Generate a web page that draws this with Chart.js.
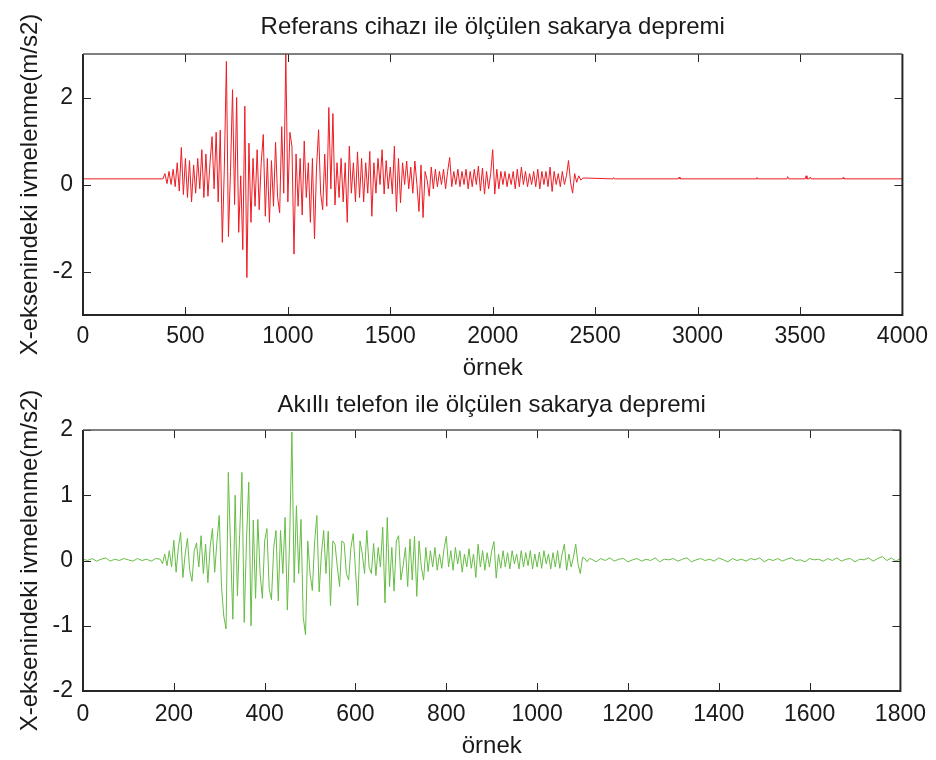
<!DOCTYPE html>
<html>
<head>
<meta charset="utf-8">
<script src="https://cdn.jsdelivr.net/npm/chart.js@4.4.1/dist/chart.umd.min.js"></script>
<style>
  body { margin: 0; background: #fff; }
  #wrap { position: relative; width: 936px; height: 760px; overflow: hidden; }
  canvas { position: absolute; left: 0; }
  #refChart { top: 0; }
  #phoneChart { top: 380px; }
</style>
</head>
<body>
<div id="wrap">
  <canvas id="refChart" width="936" height="390"></canvas>
  <canvas id="phoneChart" width="936" height="380"></canvas>
</div>
<script>
// --- reference device record (samples 0..4000) ---
const refStart = 390;
const refStep = 10;
const refBaseline = 0.13;
const refWave = [
  0.13, 0.25, 0.02, 0.3, 0.0, 0.35, -0.05, 0.5, -0.15, 0.85,
  -0.23, 0.6, -0.3, 0.55, -0.4, 0.45, -0.2, 0.6, -0.1, 0.8,
  -0.3, 0.7, -0.27, 0.5, 1.1, -0.1, 1.2, -0.4, 1.25, -1.33,
  0.4, 2.83, -1.2, 0.3, 2.18, -0.46, 2.0, -1.1, 0.2, -1.5,
  1.8, -2.14, 0.95, -0.87, 0.6, -0.5, 0.8, -0.58, 0.5, 1.15,
  -0.73, 0.6, -0.87, 0.55, -0.5, 0.97, -0.3, -0.65, 1.33, -0.2,
  3.0, -0.4, 1.2, 0.88, -1.6, 0.7, -0.5, 0.6, -0.7, 1.0,
  -0.3, 0.5, -0.87, 0.6, -1.25, 0.4, 1.26, -0.2, -0.58, 0.7,
  -0.5, 1.77, -0.1, 1.63, -0.47, 0.5, -0.3, 0.6, -0.4, 0.5,
  -0.87, 0.88, -0.2, 0.5, -0.4, 0.75, -0.3, 0.6, -0.4, 0.5,
  -0.2, 0.76, -0.73, 0.5, -0.2, 0.6, 0.0, 0.8, -0.22, 0.55,
  -0.1, 0.4, -0.22, 0.88, -0.62, 0.6, -0.42, 0.5, 0.0, 0.54,
  -0.1, 0.4, -0.2, 0.54, 0.0, -0.62, 0.45, -0.76, 0.3, 0.1,
  -0.27, 0.4, -0.1, 0.35, -0.05, 0.3, 0.0, 0.35, -0.1, 0.3,
  0.62, -0.05, 0.3, 0.0, 0.35, -0.05, 0.3, 0.0, 0.35, -0.1,
  0.3, -0.05, 0.35, 0.0, 0.42, -0.15, 0.38, -0.22, 0.3, -0.1,
  0.25, 0.8, -0.22, 0.35, -0.1, 0.3, 0.0, 0.3, -0.05, 0.25,
  0.0, 0.3, -0.1, 0.35, -0.05, 0.4, 0.0, 0.3, -0.05, 0.25,
  0.0, 0.3, -0.05, 0.35, -0.1, 0.3, 0.0, 0.3, -0.05, 0.4,
  -0.16, 0.3, 0.0, 0.25, -0.05, 0.3, 0.0, 0.2, 0.55, 0.05,
  -0.2, 0.25, 0.05, 0.2, 0.1, 0.15
];
const refBlipSamples = [2590, 2910, 3290, 3440, 3530, 3550, 3710];
const refBlipValues = [0.16, 0.17, 0.16, 0.18, 0.2, 0.17, 0.16];
const refXTicks = [0, 500, 1000, 1500, 2000, 2500, 3000, 3500, 4000];
const refYTicks = [-2, 0, 2];

// --- smartphone record (samples 0..1800) ---
const phoneQuietBefore = [0.02, 0.0, 0.03, -0.01, 0.02, 0.04, -0.01, 0.02, 0.0, 0.03,
  0.01, -0.01, 0.03, 0.0, 0.02, -0.01, 0.03];          // 0..160, step 10
const phoneWaveStart = 170;
const phoneWaveStep = 5;
const phoneWave = [
  0.02, -0.05, 0.1, -0.08, 0.15, -0.1, 0.31, -0.18, 0.2, 0.43,
  -0.26, 0.1, 0.34, -0.15, -0.32, 0.15, 0.27, -0.1, 0.38, -0.2,
  0.25, -0.34, 0.2, 0.49, -0.18, 0.3, 0.69, -0.4, -0.85, -1.05,
  1.35, 0.2, -0.9, 1.0, -0.54, 0.4, 1.35, -0.95, 0.3, 1.2,
  -1.0, 0.62, -0.58, 0.63, -0.2, -0.58, 0.3, 0.49, -0.43, -0.6,
  0.2, 0.46, -0.62, 0.46, -0.2, 0.66, -0.76, 0.3, 1.97, -0.34,
  0.84, -0.2, 0.63, -0.87, -1.14, 0.3, -0.2, -0.46, 0.28, 0.69,
  -0.48, 0.1, 0.46, -0.2, 0.45, -0.69, 0.3, 0.25, -0.1, -0.4,
  0.3, 0.27, -0.2, -0.3, 0.2, 0.41, -0.15, -0.69, 0.3, 0.1,
  -0.2, 0.46, -0.1, -0.2, 0.26, -0.23, 0.2, -0.1, 0.51, -0.65,
  0.66, -0.4, 0.2, -0.47, 0.3, 0.38, -0.3, -0.08, 0.2, -0.4,
  0.33, -0.3, 0.37, -0.55, 0.3, -0.1, -0.3, 0.2, -0.17, 0.15,
  -0.1, 0.2, -0.15, 0.1, -0.12, 0.18, 0.37, -0.1, 0.15, -0.15,
  0.2, -0.05, 0.15, -0.18, 0.1, -0.1, 0.18, -0.12, 0.1, -0.26,
  0.25, -0.1, 0.15, -0.15, 0.12, -0.1, 0.15, 0.29, -0.27, 0.1,
  -0.12, 0.15, -0.1, 0.12, -0.13, 0.15, -0.05, 0.1, -0.13, 0.15,
  -0.1, 0.12, -0.08, 0.15, -0.13, 0.1, -0.1, 0.13, -0.12, 0.15,
  -0.05, 0.1, -0.13, 0.12, -0.1, 0.15, -0.12, 0.1, 0.25, -0.15,
  0.1, -0.1, 0.05, 0.25, -0.05, -0.2, 0.05, 0.03, -0.02, 0.03
];
const phoneQuietAfterStart = 1120;
const phoneQuietAfter = [
  0.02, -0.02, 0.03, 0.0, 0.04, -0.01, 0.02, 0.03, -0.02, 0.01,
  0.03, -0.01, 0.02, 0.0, 0.04, -0.02, 0.02, 0.01, 0.03, -0.01,
  0.02, 0.04, -0.02, 0.01, 0.03, 0.0, 0.02, -0.01, 0.04, 0.01,
  -0.02, 0.03, 0.0, 0.02, -0.01, 0.03, 0.01, 0.04, -0.02, 0.02,
  0.0, 0.03, -0.01, 0.02, 0.04, 0.0, 0.01, -0.02, 0.03, 0.01,
  0.02, -0.01, 0.03, 0.0, 0.04, -0.01, 0.02, 0.03, -0.02, 0.02,
  0.01, 0.04, -0.01, 0.03, 0.06, 0.0, 0.04, -0.01, 0.03
];
const phoneXTicks = [0, 200, 400, 600, 800, 1000, 1200, 1400, 1600, 1800];
const phoneYTicks = [-2, -1, 0, 1, 2];

const yLabel = 'X-eksenindeki ivmelenme(m/s2)';
const xLabel = 'örnek';

Chart.defaults.font.family = "'Liberation Sans', Arial, sans-serif";
Chart.defaults.color = '#1a1a1a';

function refPoints() {
  const pts = [{x: 0, y: refBaseline}];
  refWave.forEach((v, i) => pts.push({x: refStart + i * refStep, y: v}));
  refBlipSamples.forEach((s, i) => {
    pts.push({x: s - 4, y: refBaseline});
    pts.push({x: s, y: refBlipValues[i]});
    pts.push({x: s + 4, y: refBaseline});
  });
  pts.push({x: 4000, y: refBaseline});
  return pts;
}

function phonePoints() {
  const pts = [];
  phoneQuietBefore.forEach((v, i) => pts.push({x: i * 10, y: v}));
  phoneWave.forEach((v, i) => pts.push({x: phoneWaveStart + i * phoneWaveStep, y: v}));
  phoneQuietAfter.forEach((v, i) => pts.push({x: phoneQuietAfterStart + i * 10, y: v}));
  return pts;
}

// box around the axes with inward tick marks on all four sides
const axesBox = {
  id: 'axesBox',
  afterDatasetsDraw(chart) {
    const {ctx, chartArea: a, scales: {x, y}} = chart;
    ctx.save();
    ctx.strokeStyle = '#262626';
    ctx.lineWidth = 1;
    ctx.beginPath();
    x.ticks.forEach(t => {
      const px = Math.round(x.getPixelForValue(t.value)) + 0.5;
      ctx.moveTo(px, a.bottom); ctx.lineTo(px, a.bottom - 8);
      ctx.moveTo(px, a.top); ctx.lineTo(px, a.top + 8);
    });
    y.ticks.forEach(t => {
      const py = Math.round(y.getPixelForValue(t.value)) + 0.5;
      ctx.moveTo(a.left, py); ctx.lineTo(a.left + 8, py);
      ctx.moveTo(a.right, py); ctx.lineTo(a.right - 8, py);
    });
    ctx.stroke();
    ctx.lineWidth = 2;
    ctx.beginPath();
    ctx.moveTo(a.left, a.top); ctx.lineTo(a.left, a.bottom);
    ctx.lineTo(a.right, a.bottom); ctx.lineTo(a.right, a.top);
    ctx.stroke();
    ctx.strokeStyle = '#555';
    ctx.lineWidth = 1.5;
    ctx.beginPath();
    ctx.moveTo(a.left, a.top); ctx.lineTo(a.right, a.top);
    ctx.stroke();
    ctx.restore();
  }
};

function subplot(id, cfg) {
  return new Chart(document.getElementById(id), {
    type: 'line',
    data: {
      datasets: [{
        data: cfg.points,
        borderColor: cfg.color,
        borderWidth: 1,
        pointRadius: 0,
        tension: 0
      }]
    },
    options: {
      responsive: false,
      animation: false,
      layout: {padding: {left: 0, right: 33, top: 0, bottom: 0}},
      plugins: {
        legend: {display: false},
        tooltip: {enabled: false},
        title: {
          display: true,
          fullSize: false,   // centre the title over the axes, not the canvas
          text: cfg.title,
          font: {size: 24, weight: 'normal', lineHeight: 1},
          padding: cfg.titlePad
        }
      },
      scales: {
        x: {
          type: 'linear',
          min: cfg.xTicks[0],
          max: cfg.xTicks[cfg.xTicks.length - 1],
          grid: {display: false, drawTicks: false},
          border: {display: false},
          afterBuildTicks: s => { s.ticks = cfg.xTicks.map(v => ({value: v})); },
          afterFit: s => { s.height = cfg.xHeight; },
          ticks: {font: {size: 23}, padding: cfg.xTickPad, maxRotation: 0, callback: v => String(v)},
          title: {display: true, text: xLabel, font: {size: 24, lineHeight: 1}, padding: {top: 0, bottom: cfg.xTitlePad}}
        },
        y: {
          min: cfg.yMin,
          max: cfg.yMax,
          grid: {display: false, drawTicks: false},
          border: {display: false},
          afterBuildTicks: s => { s.ticks = cfg.yTicks.map(v => ({value: v})); },
          afterFit: s => { s.width = 83; },
          ticks: {font: {size: 23}, padding: 10, callback: v => String(v)},
          title: {display: true, text: yLabel, font: {size: 24, lineHeight: 1}, padding: {top: 18, bottom: 0}}
        }
      }
    },
    plugins: [axesBox]
  });
}

subplot('refChart', {
  points: refPoints(),
  color: 'rgb(237,28,36)',
  title: 'Referans cihazı ile ölçülen sakarya depremi',
  titlePad: {top: 15, bottom: 15},
  xTicks: refXTicks, yTicks: refYTicks,
  yMin: -3, yMax: 3,
  xHeight: 75, xTickPad: 8, xTitlePad: 10
});

subplot('phoneChart', {
  points: phonePoints(),
  color: 'rgb(102,189,69)',
  title: 'Akıllı telefon ile ölçülen sakarya depremi',
  titlePad: {top: 13, bottom: 13},
  xTicks: phoneXTicks, yTicks: phoneYTicks,
  yMin: -2, yMax: 2,
  xHeight: 69, xTickPad: 10, xTitlePad: 2
});
</script>
</body>
</html>
